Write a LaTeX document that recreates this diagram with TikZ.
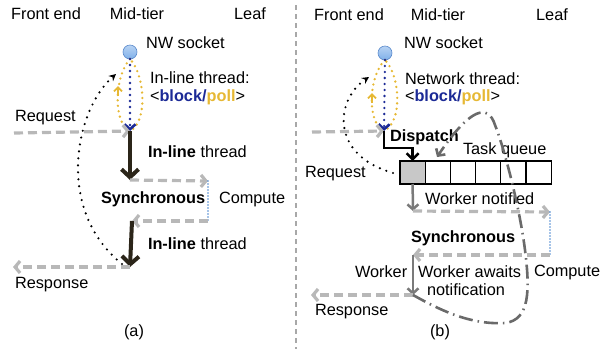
\documentclass[tikz,border=0pt]{standalone}
\usepackage{fontspec}
\setmainfont{Liberation Sans}
\usepackage{xcolor}
\usepackage{tikz}
\usetikzlibrary{arrows.meta, positioning}

\definecolor{reqgray}{HTML}{B8B8B8}
\definecolor{threadblack}{HTML}{2B2519}
\definecolor{blocknavy}{HTML}{1C2A96}
\definecolor{pollyellow}{HTML}{E6B834}
\definecolor{sockblue}{HTML}{7FB0EA}
\definecolor{sockedge}{HTML}{5A8ACC}
\definecolor{computeblue}{HTML}{4A88D0}
\definecolor{workergray}{HTML}{7A7A7A}
\definecolor{loopgray}{HTML}{6A6A6A}
\definecolor{sepgray}{HTML}{A8A8A8}
\definecolor{cellgray}{HTML}{C8C8C8}

\begin{document}
\begin{tikzpicture}[
        x=1pt, y=-1pt,
        every node/.style={font=\fontsize{16.3}{18}\selectfont, inner sep=0pt, outer sep=0pt},
        txt/.style={anchor=west},
        msgarrow/.style={draw=reqgray, line width=3.2pt, dash pattern=on 9pt off 5pt, -{Straight Barb[length=5pt, width=12pt]}},
        inline/.style={draw=threadblack, line width=4pt, -{Straight Barb[length=8pt, width=17pt]}},
        socket/.style={circle, draw=sockedge, line width=0.6pt, top color=sockblue!55!white, bottom color=sockblue, minimum size=14pt},
        pollloop/.style={draw=pollyellow, line width=2.6pt, dash pattern=on 0pt off 5.5pt, line cap=round},
        pollmark/.style={draw=pollyellow, line width=1.8pt, -{Straight Barb[length=4pt, width=8pt]}},
        blockline/.style={draw=blocknavy, line width=2.6pt, dash pattern=on 0pt off 6pt, line cap=round, -{Straight Barb[length=5pt, width=11pt, line cap=butt]}},
        computeline/.style={draw=computeblue, line width=1.8pt, dash pattern=on 0pt off 3pt, line cap=round},
        reqloop/.style={draw=black, line width=2.4pt, dash pattern=on 0pt off 7pt, line cap=round, -{Stealth[length=7pt, width=7pt, line cap=butt]}},
        worker/.style={draw=workergray, line width=2.5pt, -{Straight Barb[length=5pt, width=11pt]}},
        dispatch/.style={draw=black, line width=2.5pt, -{Straight Barb[length=6pt, width=12pt]}},
        waitloop/.style={draw=loopgray, line width=2.6pt, dash pattern=on 14pt off 5pt on 1.5pt off 5pt, -{Straight Barb[length=5pt, width=11pt]}},
        qcell/.style={draw, line width=1.2pt, minimum width=25.2pt, minimum height=23pt},
        sep/.style={draw=sepgray, line width=1.5pt, dash pattern=on 5pt off 4pt}
    ]
    \useasboundingbox (0,0) rectangle (608,349);

    % Separator
    \coordinate (sepTop) at (296,5);
    \coordinate (sepBot) at (296,349);
    \draw[sep] (sepTop) -- (sepBot);

    % (a) Nodes
    \node (frontA) at (46,14) {Front end};
    \node (midA) at (137,14) {Mid-tier};
    \node (leafA) at (250,14) {Leaf};
    \node[socket] (sockA) at (130,52) {};
    \node[txt] (sockTxtA) at (146,43) {NW socket};
    \node[txt] (threadA) at (150,78) {In-line thread:};
    \node[txt] (modeA) at (150,97) {<\textbf{\textcolor{blocknavy}{block/}\textcolor{pollyellow}{poll}}>};
    \node[txt] (reqTxtA) at (15,118) {Request};
    \node[txt] (inlineA1) at (148,152) {\textbf{In-line} thread};
    \node[txt] (syncTxtA) at (101,199) {\textbf{Synchronous}};
    \node[txt] (compTxtA) at (219,199) {Compute};
    \node[txt] (inlineA2) at (148,244) {\textbf{In-line} thread};
    \node[txt] (respTxtA) at (15,285) {Response};
    \node (capA) at (134,332) {(a)};

    \coordinate (recvA) at (130,131);
    \coordinate (reqA) at (14,133);
    \coordinate (syncA1) at (130,180);
    \coordinate (compA1) at (208,181);
    \coordinate (compA2) at (208,221);
    \coordinate (syncA2) at (132,221);
    \coordinate (respA) at (130,267);
    \coordinate (respEndA) at (13,267);
    \coordinate (loopStartA) at (122,264);
    \coordinate (loopEndA) at (116,74);

    % (a) Edges
    \draw[pollloop] (sockA.south) .. controls (115,75) and (112,122) .. (recvA) .. controls (148,122) and (145,75) .. (sockA.south);
    \draw[pollmark] (118,96) -- (118,86);
    \draw[blockline] (sockA.south) -- (recvA);
    \draw[msgarrow] (reqA) -- (recvA);
    \draw[inline] (recvA) -- (syncA1);
    \draw[msgarrow] (syncA1) -- (compA1);
    \draw[computeline] (compA1) -- (compA2);
    \draw[msgarrow] (compA2) -- (syncA2);
    \draw[inline] (syncA2) -- (respA);
    \draw[msgarrow] (respA) -- (respEndA);
    \draw[reqloop] (loopStartA) .. controls (55,210) and (75,110) .. (loopEndA);

    % (b) Nodes
    \node (frontB) at (349,15) {Front end};
    \node (midB) at (438,15) {Mid-tier};
    \node (leafB) at (552,15) {Leaf};
    \node[socket] (sockB) at (385,53) {};
    \node[txt] (sockTxtB) at (404,43) {NW socket};
    \node[txt] (threadB) at (405,79) {Network thread:};
    \node[txt] (modeB) at (405,97) {<\textbf{\textcolor{blocknavy}{block/}\textcolor{pollyellow}{poll}}>};
    \node[txt] (dispTxt) at (390,137) {\textbf{Dispatch}};
    \node[txt] (queueTxt) at (463,150) {Task queue};
    \node[txt] (reqTxtB) at (305,174) {Request};
    \node[txt] (notifTxt) at (425,199) {Worker notified};
    \node[txt] (syncTxtB) at (411,238) {\textbf{Synchronous}};
    \node[txt] (workerTxt) at (355,272) {Worker};
    \node[txt] (awaitTxt) at (418,272) {Worker awaits};
    \node[txt] (notifTxt2) at (427,290) {notification};
    \node[txt] (compTxtB) at (534,272) {Compute};
    \node[txt] (respTxtB) at (315,312) {Response};
    \node (capB) at (440,332) {(b)};

    % task queue
    \node[qcell, fill=cellgray] (q1) at (412.6,172.5) {};
    \foreach \i [count=\j from 2] in {1,...,5}
        \node[qcell, right=0pt of q\i] (q\j) {};

    \coordinate (recvB) at (384,131);
    \coordinate (reqB) at (312,132);
    \coordinate (dispB) at (384,148);
    \coordinate (syncB1) at (413,211);
    \coordinate (compB1) at (550,212);
    \coordinate (compB2) at (550,255);
    \coordinate (syncB2) at (413,255);
    \coordinate (respB) at (413,295);
    \coordinate (respEndB) at (311,295);
    \coordinate (loopStartB) at (393,173);
    \coordinate (loopEndB) at (369,77);
    \coordinate (taskB) at (437,157);

    % (b) Edges
    \draw[pollloop] (sockB.south) .. controls (369,75) and (366,122) .. (recvB) .. controls (403,122) and (400,75) .. (sockB.south);
    \draw[pollmark] (372,103) -- (372,93);
    \draw[blockline] (sockB.south) -- (recvB);
    \draw[msgarrow] (reqB) -- (recvB);
    \draw[dispatch] (recvB) -- (dispB) -| (q1.north);
    \draw[worker] (q1.south) -- (syncB1);
    \draw[msgarrow] (syncB1) -- (compB1);
    \draw[computeline] (compB1) -- (compB2);
    \draw[msgarrow] (compB2) -- (syncB2);
    \draw[worker] (syncB2) -- (respB);
    \draw[msgarrow] (respB) -- (respEndB);
    \draw[reqloop] (loopStartB) .. controls (330,155) and (335,100) .. (loopEndB);
    \draw[waitloop] (respB) .. controls (440,310) and (470,325) .. (505,323)
        .. controls (530,320) and (530,290) .. (525,250)
        .. controls (520,210) and (505,150) .. (495,125)
        .. controls (488,103) and (470,108) .. (taskB);
\end{tikzpicture}
\end{document}
